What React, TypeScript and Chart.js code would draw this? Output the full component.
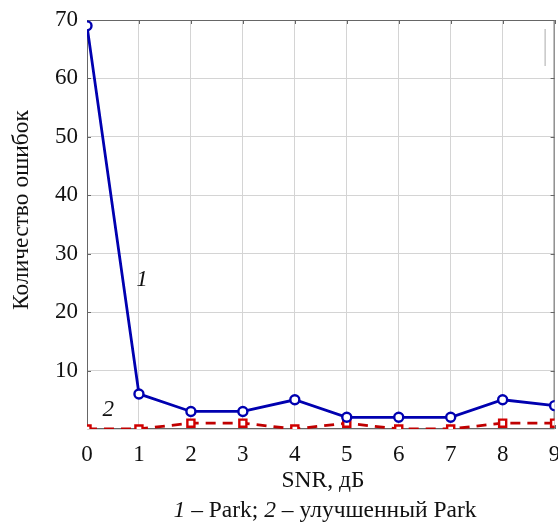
import React, { useEffect, useRef } from "react";
import { Chart, registerables } from "chart.js";
Chart.register(...registerables);

const snr = [0, 1, 2, 3, 4, 5, 6, 7, 8, 9];
const parkErrors = [69, 6, 3, 3, 5, 2, 2, 2, 5, 4];
const improvedErrors = [0, 0, 1, 1, 0, 1, 0, 0, 1, 1];
const yTicks = [10, 20, 30, 40, 50, 60, 70];
const yTitle = "Количество ошибок";
const xTitle = "SNR, дБ";

const FONT = "'Liberation Serif', 'Times New Roman', serif";

const decor = {
  id: "decor",
  beforeDatasetsDraw(chart: any) {
    const { ctx, chartArea: a } = chart;
    ctx.save();
    ctx.strokeStyle = "#666";
    ctx.lineWidth = 1;
    ctx.strokeRect(a.left + 0.5, a.top + 0.5, a.right - a.left - 1, a.bottom - a.top - 1);
    const xs = chart.scales.x, ys = chart.scales.y;
    ctx.beginPath();
    for (const v of snr) {
      const px = Math.round(xs.getPixelForValue(v)) + 0.5;
      ctx.moveTo(px, a.top); ctx.lineTo(px, a.top + 4);
      ctx.moveTo(px, a.bottom); ctx.lineTo(px, a.bottom - 4);
    }
    for (const v of yTicks) {
      const py = Math.round(ys.getPixelForValue(v)) + 0.5;
      ctx.moveTo(a.left, py); ctx.lineTo(a.left + 4, py);
      ctx.moveTo(a.right, py); ctx.lineTo(a.right - 4, py);
    }
    ctx.stroke();
    // small legend remnant line
    ctx.strokeStyle = "#aaa";
    ctx.beginPath();
    ctx.moveTo(a.right - 9.5, 29); ctx.lineTo(a.right - 9.5, 66);
    ctx.stroke();
    ctx.restore();
  },
  afterDraw(chart: any) {
    const { ctx } = chart;
    const xs = chart.scales.x, ys = chart.scales.y;
    ctx.save();
    ctx.fillStyle = "#111";
    // y title
    ctx.save();
    ctx.translate(22, 210);
    ctx.rotate(-Math.PI / 2);
    ctx.font = `23.5px ${FONT}`;
    ctx.textAlign = "center";
    ctx.textBaseline = "middle";
    ctx.fillText(yTitle, 0, 0);
    ctx.restore();
    // x title
    ctx.font = `23.5px ${FONT}`;
    ctx.textAlign = "center";
    ctx.textBaseline = "middle";
    ctx.fillText(xTitle, 323, 481);
    // series labels
    ctx.font = `italic 23px ${FONT}`;
    ctx.fillText("1", xs.getPixelForValue(1.06), ys.getPixelForValue(25.5));
    ctx.fillText("2", xs.getPixelForValue(0.41), ys.getPixelForValue(3.2));
    // caption
    const parts: [string, boolean][] = [
      ["1", true], [" – Park; ", false], ["2", true], [" – улучшенный Park", false],
    ];
    let total = 0;
    const widths = parts.map(([t, it]) => {
      ctx.font = `${it ? "italic " : ""}23.5px ${FONT}`;
      const w = ctx.measureText(t).width;
      total += w;
      return w;
    });
    let x = 325 - total / 2;
    ctx.textAlign = "left";
    parts.forEach(([t, it], i) => {
      ctx.font = `${it ? "italic " : ""}23.5px ${FONT}`;
      ctx.fillText(t, x, 511);
      x += widths[i];
    });
    ctx.restore();
  },
};

export default function App() {
  const ref = useRef<HTMLCanvasElement>(null);
  useEffect(() => {
    const chart = new Chart(ref.current!, {
      type: "line",
      data: {
        datasets: [
          {
            label: "Park",
            data: snr.map((x, i) => ({ x, y: parkErrors[i] })),
            borderColor: "#0000b0",
            backgroundColor: "#ffffff",
            borderWidth: 2.8,
            pointStyle: "circle",
            pointRadius: 4.5,
            pointBorderWidth: 2.4,
            pointBorderColor: "#0000b0",
            pointBackgroundColor: "#ffffff",
            tension: 0,
          },
          {
            label: "Improved Park",
            data: snr.map((x, i) => ({ x, y: improvedErrors[i] })),
            borderColor: "#c00000",
            backgroundColor: "#ffffff",
            borderWidth: 2.8,
            borderDash: [10, 7],
            pointStyle: "rect",
            pointRadius: 5,
            pointBorderWidth: 2.4,
            pointBorderColor: "#d00000",
            pointBackgroundColor: "#ffffff",
            tension: 0,
          },
        ],
      },
      options: {
        animation: false,
        responsive: false,
        maintainAspectRatio: false,
        layout: { padding: { left: 0, right: 0, top: 20, bottom: 0 } },
        plugins: { legend: { display: false }, tooltip: { enabled: false } },
        scales: {
          x: {
            type: "linear",
            min: 0,
            max: 9,
            border: { display: false },
            grid: { color: "#d4d4d4", drawTicks: false },
            ticks: {
              stepSize: 1,
              padding: 12,
              color: "#111",
              font: { family: FONT, size: 23 },
              maxRotation: 0,
            },
            afterFit(s: any) { s.height = 95; s.paddingLeft = 0; s.paddingRight = 0; },
          },
          y: {
            min: 0,
            max: 70,
            border: { display: false },
            grid: { color: "#d4d4d4", drawTicks: false },
            ticks: {
              stepSize: 10,
              padding: 9,
              color: "#111",
              font: { family: FONT, size: 23 },
              callback: (v: any) => (v === 0 ? "" : String(v)),
            },
            afterFit(s: any) { s.width = 87; s.paddingTop = 0; s.paddingBottom = 0; },
          },
        },
      },
      plugins: [decor],
    });
    return () => chart.destroy();
  }, []);
  return (
    <div style={{ position: "fixed", left: 0, top: 0, width: 558, height: 524, background: "#fff", overflow: "hidden" }}>
      <canvas ref={ref} width={562} height={524} style={{ display: "block" }} />
    </div>
  );
}
